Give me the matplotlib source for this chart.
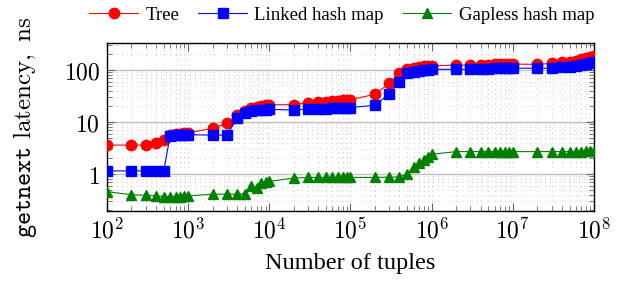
import matplotlib
matplotlib.use("Agg")
import matplotlib.pyplot as plt
from matplotlib.ticker import LogLocator, FixedLocator, NullFormatter

plt.rcParams['mathtext.fontset'] = 'cm'

# x values: 1..9 x 10^k, k=2..7, plus 10^8
x_vals = [m * 10**k for k in range(2, 8) for m in range(1, 10)] + [10**8]

tree = [3.6, 3.6, 3.6, 3.9, 4.5, 5.6, 5.8, 6.0, 6.1,
        6.2, 7.6, 9.4, 13.6, 16.5, 19.0, 19.8, 20.5, 21.0,
        21.5, 21.5, 23.5, 24.0, 24.5, 25.0, 25.5, 26.0, 26.5,
        27.0, 34.0, 55.0, 86.0, 103.0, 110.0, 114.0, 117.0, 119.0,
        121.0, 124.0, 124.0, 126.0, 127.0, 128.0, 128.0, 129.0, 129.0,
        130.0, 128.0, 134.0, 140.0, 145.0, 152.0, 160.0, 168.0, 175.0,
        182.0]
linked = [1.15, 1.15, 1.15, 1.15, 1.15, 5.5, 5.6, 5.7, 5.7,
          5.7, 5.6, 5.6, 11.8, 14.7, 16.5, 17.0, 17.2, 17.4,
          17.5, 17.0, 17.8, 18.0, 18.0, 18.2, 18.4, 18.6, 18.8,
          19.0, 21.0, 35.0, 60.0, 86.0, 93.0, 96.0, 99.0, 101.0,
          103.0, 103.0, 103.0, 105.0, 106.0, 107.0, 107.0, 108.0, 108.0,
          108.0, 108.0, 108.0, 112.0, 116.0, 120.0, 126.0, 132.0, 138.0,
          145.0]
gapless = [0.46, 0.40, 0.39, 0.38, 0.37, 0.37, 0.37, 0.37, 0.38,
           0.38, 0.41, 0.41, 0.41, 0.42, 0.60, 0.55, 0.68, 0.70,
           0.72, 0.84, 0.86, 0.86, 0.86, 0.86, 0.86, 0.86, 0.86,
           0.86, 0.86, 0.87, 0.88, 1.0, 1.35, 1.6, 1.9, 2.15,
           2.4, 2.7, 2.7, 2.7, 2.7, 2.7, 2.7, 2.7, 2.7,
           2.7, 2.7, 2.7, 2.7, 2.7, 2.7, 2.7, 2.75, 2.75,
           2.75]

series_labels = ["Tree", "Linked hash map", "Gapless hash map"]
x_ticks = [10**k for k in range(2, 9)]
x_ticklabels = [r"$10^{%d}$" % k for k in range(2, 9)]
y_ticks = [1, 10, 100]
y_ticklabels = ["$1$", "$10$", "$100$"]

fig = plt.figure(figsize=(6.22, 2.84), dpi=100)
ax = fig.add_axes([107/622, 1 - 211/284, (594-107)/622, (211-43)/284])

ax.plot(x_vals, tree, color="#ff0000", marker="o", markersize=7.5, lw=0.8,
        label=series_labels[0], zorder=5)
ax.plot(x_vals, linked, color="#0000ff", marker="s", markersize=7, lw=0.8,
        label=series_labels[1], zorder=6)
ax.plot(x_vals, gapless, color="#008000", marker="^", markersize=7.5, lw=0.8,
        label=series_labels[2], zorder=5)

ax.set_xscale("log")
ax.set_yscale("log")
ax.set_xlim(1e2, 1e8)
ax.set_ylim(0.195, 330)

ax.xaxis.set_major_locator(FixedLocator(x_ticks))
ax.set_xticklabels(x_ticklabels)
ax.xaxis.set_minor_locator(LogLocator(base=10, subs=range(2, 10), numticks=20))
ax.xaxis.set_minor_formatter(NullFormatter())
ax.yaxis.set_major_locator(FixedLocator(y_ticks))
ax.set_yticklabels(y_ticklabels)
ax.yaxis.set_minor_locator(LogLocator(base=10, subs=range(2, 10), numticks=20))
ax.yaxis.set_minor_formatter(NullFormatter())

ax.tick_params(which="both", direction="in", top=True, right=True, labelsize=17,
               color="#666666")
ax.tick_params(which="major", length=6, width=0.8, pad=5)
ax.tick_params(which="minor", length=3.5, width=0.6)

ax.grid(which="major", axis="y", color="#c0c0c0", lw=1.0, ls="-")
ax.grid(which="minor", axis="both", color="#c8c8c8", lw=0.7, ls=(0, (1, 4)))
ax.grid(which="major", axis="x", color="#c8c8c8", lw=0.7, ls=(0, (1, 4)))
ax.set_axisbelow(True)
for sp in ax.spines.values():
    sp.set_linewidth(1.0)

ax.set_xlabel("Number of tuples", fontsize=17.5, family="Liberation Serif", labelpad=7)
ax.set_ylabel(r"$\mathtt{getnext}\ \mathrm{latency,\ ns}$", fontsize=18)
ax.yaxis.set_label_coords(-0.139, 0.5)

fig.legend(loc="center", bbox_to_anchor=(342/622, 1 - 15/284), ncol=3, frameon=False,
           prop={"family": "Liberation Serif", "size": 13.5}, handlelength=2.6,
           columnspacing=1.0, handletextpad=0.4, borderaxespad=0)

fig.savefig("out.png", dpi=100)
